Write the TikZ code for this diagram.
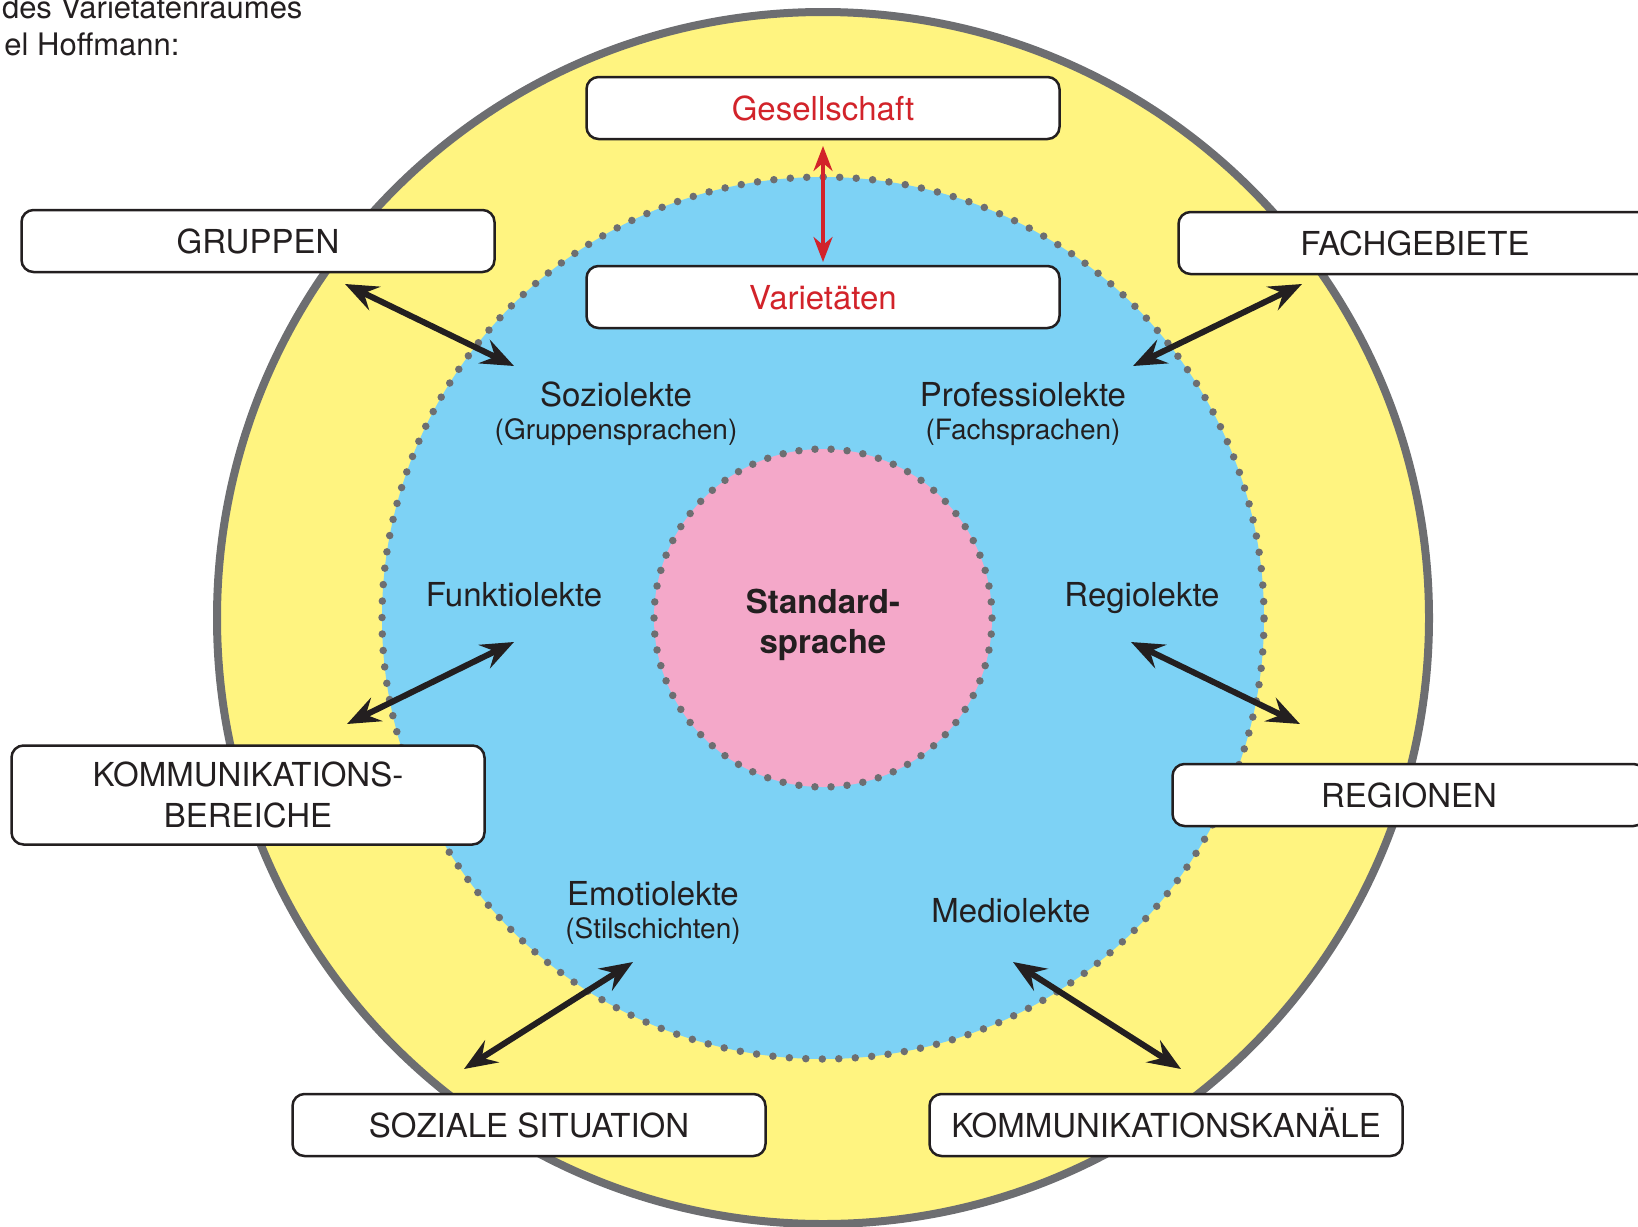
\documentclass[tikz,border=0pt]{standalone}
\usepackage{fontspec}
\setmainfont{TeX Gyre Heros}
\usetikzlibrary{arrows.meta, positioning}

\definecolor{ringyellow}{RGB}{255,244,128}
\definecolor{ringgray}{RGB}{109,110,113}
\definecolor{varblue}{RGB}{125,210,245}
\definecolor{stdpink}{RGB}{244,168,201}
\definecolor{redtext}{RGB}{210,35,42}
\definecolor{textblack}{RGB}{35,31,32}

\tikzstyle{kasten} = [rectangle, rounded corners=12pt, minimum width=473pt, minimum height=62pt, text centered, draw=textblack, line width=2.5pt, fill=white, text=textblack, font=\fontsize{33}{41}\selectfont]
\tikzstyle{zeile} = [text height=24pt, text depth=0pt]
\tikzstyle{lekt} = [anchor=base, text=textblack, font=\fontsize{33}{40}\selectfont]
\tikzstyle{klein} = [anchor=base, text=textblack, font=\fontsize{28}{34}\selectfont]
\tikzstyle{dots} = [draw=ringgray, line width=7.5pt, line cap=round, dash pattern=on 0pt off 16.49pt]
\tikzstyle{smalldots} = [draw=ringgray, line width=7.5pt, line cap=round, dash pattern=on 0pt off 16.09pt]
\tikzstyle{arrow} = [line width=6pt, draw=textblack, {Stealth[length=33pt,width=26pt,inset=12pt]}-{Stealth[length=33pt,width=26pt,inset=12pt]}]
\tikzstyle{redarrow} = [line width=3.5pt, draw=redtext, {Stealth[length=25pt,width=19pt,inset=8pt]}-{Stealth[length=25pt,width=19pt,inset=8pt]}]

\begin{document}
\begin{tikzpicture}[x=1pt, y=-1pt]

    \useasboundingbox (0,0) rectangle (1638,1226);
    \clip (0,0) rectangle (1638,1226);

    % Kreise
    \coordinate (mitte) at (823,618);
    \fill[ringyellow] (mitte) circle (606pt);
    \draw[ringgray, line width=8pt] (mitte) circle (606pt);
    \fill[varblue] (mitte) circle (441pt);
    \draw[dots] (mitte) circle (441pt);
    \fill[stdpink] (mitte) circle (169pt);
    \draw[smalldots] (mitte) circle (169pt);

    % Ueberschrift
    \node (kopfA) [anchor=base east, text=textblack, font=\fontsize{31}{37}\selectfont] at (306,18) {des Varietätenraumes};
    \node (kopfB) [anchor=base east, text=textblack, font=\fontsize{31}{37}\selectfont] at (183,55) {el Hoffmann:};

    % Varietaeten
    \node (standard) [lekt, align=center, font=\bfseries\fontsize{33}{40}\selectfont] at (823,653) {Standard-\\sprache};
    \node (sozio) [lekt] at (616,406) {Soziolekte};
    \node (soziosub) [klein] at ([yshift=-33pt]sozio.base) {(Gruppensprachen)};
    \node (prof) [lekt] at (1023,406) {Professiolekte};
    \node (profsub) [klein] at ([yshift=-33pt]prof.base) {(Fachsprachen)};
    \node (funkt) [lekt] at (514,606) {Funktiolekte};
    \node (regio) [lekt] at (1142,606) {Regiolekte};
    \node (emo) [lekt] at (653,905) {Emotiolekte};
    \node (emosub) [klein] at ([yshift=-33pt]emo.base) {(Stilschichten)};
    \node (medio) [lekt] at (1011,922) {Mediolekte};

    % Pfeile
    \coordinate (grA) at (345,284);  \coordinate (grB) at (514,366);
    \coordinate (faA) at (1302,284); \coordinate (faB) at (1133,366);
    \coordinate (fuA) at (514,642);  \coordinate (fuB) at (347,724);
    \coordinate (reA) at (1131,642); \coordinate (reB) at (1300,724);
    \coordinate (emA) at (633,962);  \coordinate (emB) at (464,1069);
    \coordinate (meA) at (1013,962); \coordinate (meB) at (1181,1069);
    \coordinate (geA) at (823,146);  \coordinate (geB) at (823,262);

    \draw [arrow] (grA) -- (grB);
    \draw [arrow] (faA) -- (faB);
    \draw [arrow] (fuA) -- (fuB);
    \draw [arrow] (reA) -- (reB);
    \draw [arrow] (emA) -- (emB);
    \draw [arrow] (meA) -- (meB);
    \draw [redarrow] (geA) -- (geB);

    % Kaesten
    \node (gesell) [kasten, zeile, text=redtext] at (823,108) {Gesellschaft};
    \node (variet) [kasten, zeile, text=redtext] at (823,297) {Varietäten};
    \node (gruppen) [kasten, zeile] at (258,241) {GRUPPEN};
    \node (fach) [kasten, zeile] at (1415,243) {FACHGEBIETE};
    \node (bereiche) [kasten, align=center, minimum height=99pt] at (248,795) {KOMMUNIKATIONS-\\BEREICHE};
    \node (regionen) [kasten, zeile] at (1409,795) {REGIONEN};
    \node (sozial) [kasten, zeile] at (529,1125) {SOZIALE SITUATION};
    \node (kanaele) [kasten, zeile] at (1166,1125) {KOMMUNIKATIONSKANÄLE};

\end{tikzpicture}
\end{document}
